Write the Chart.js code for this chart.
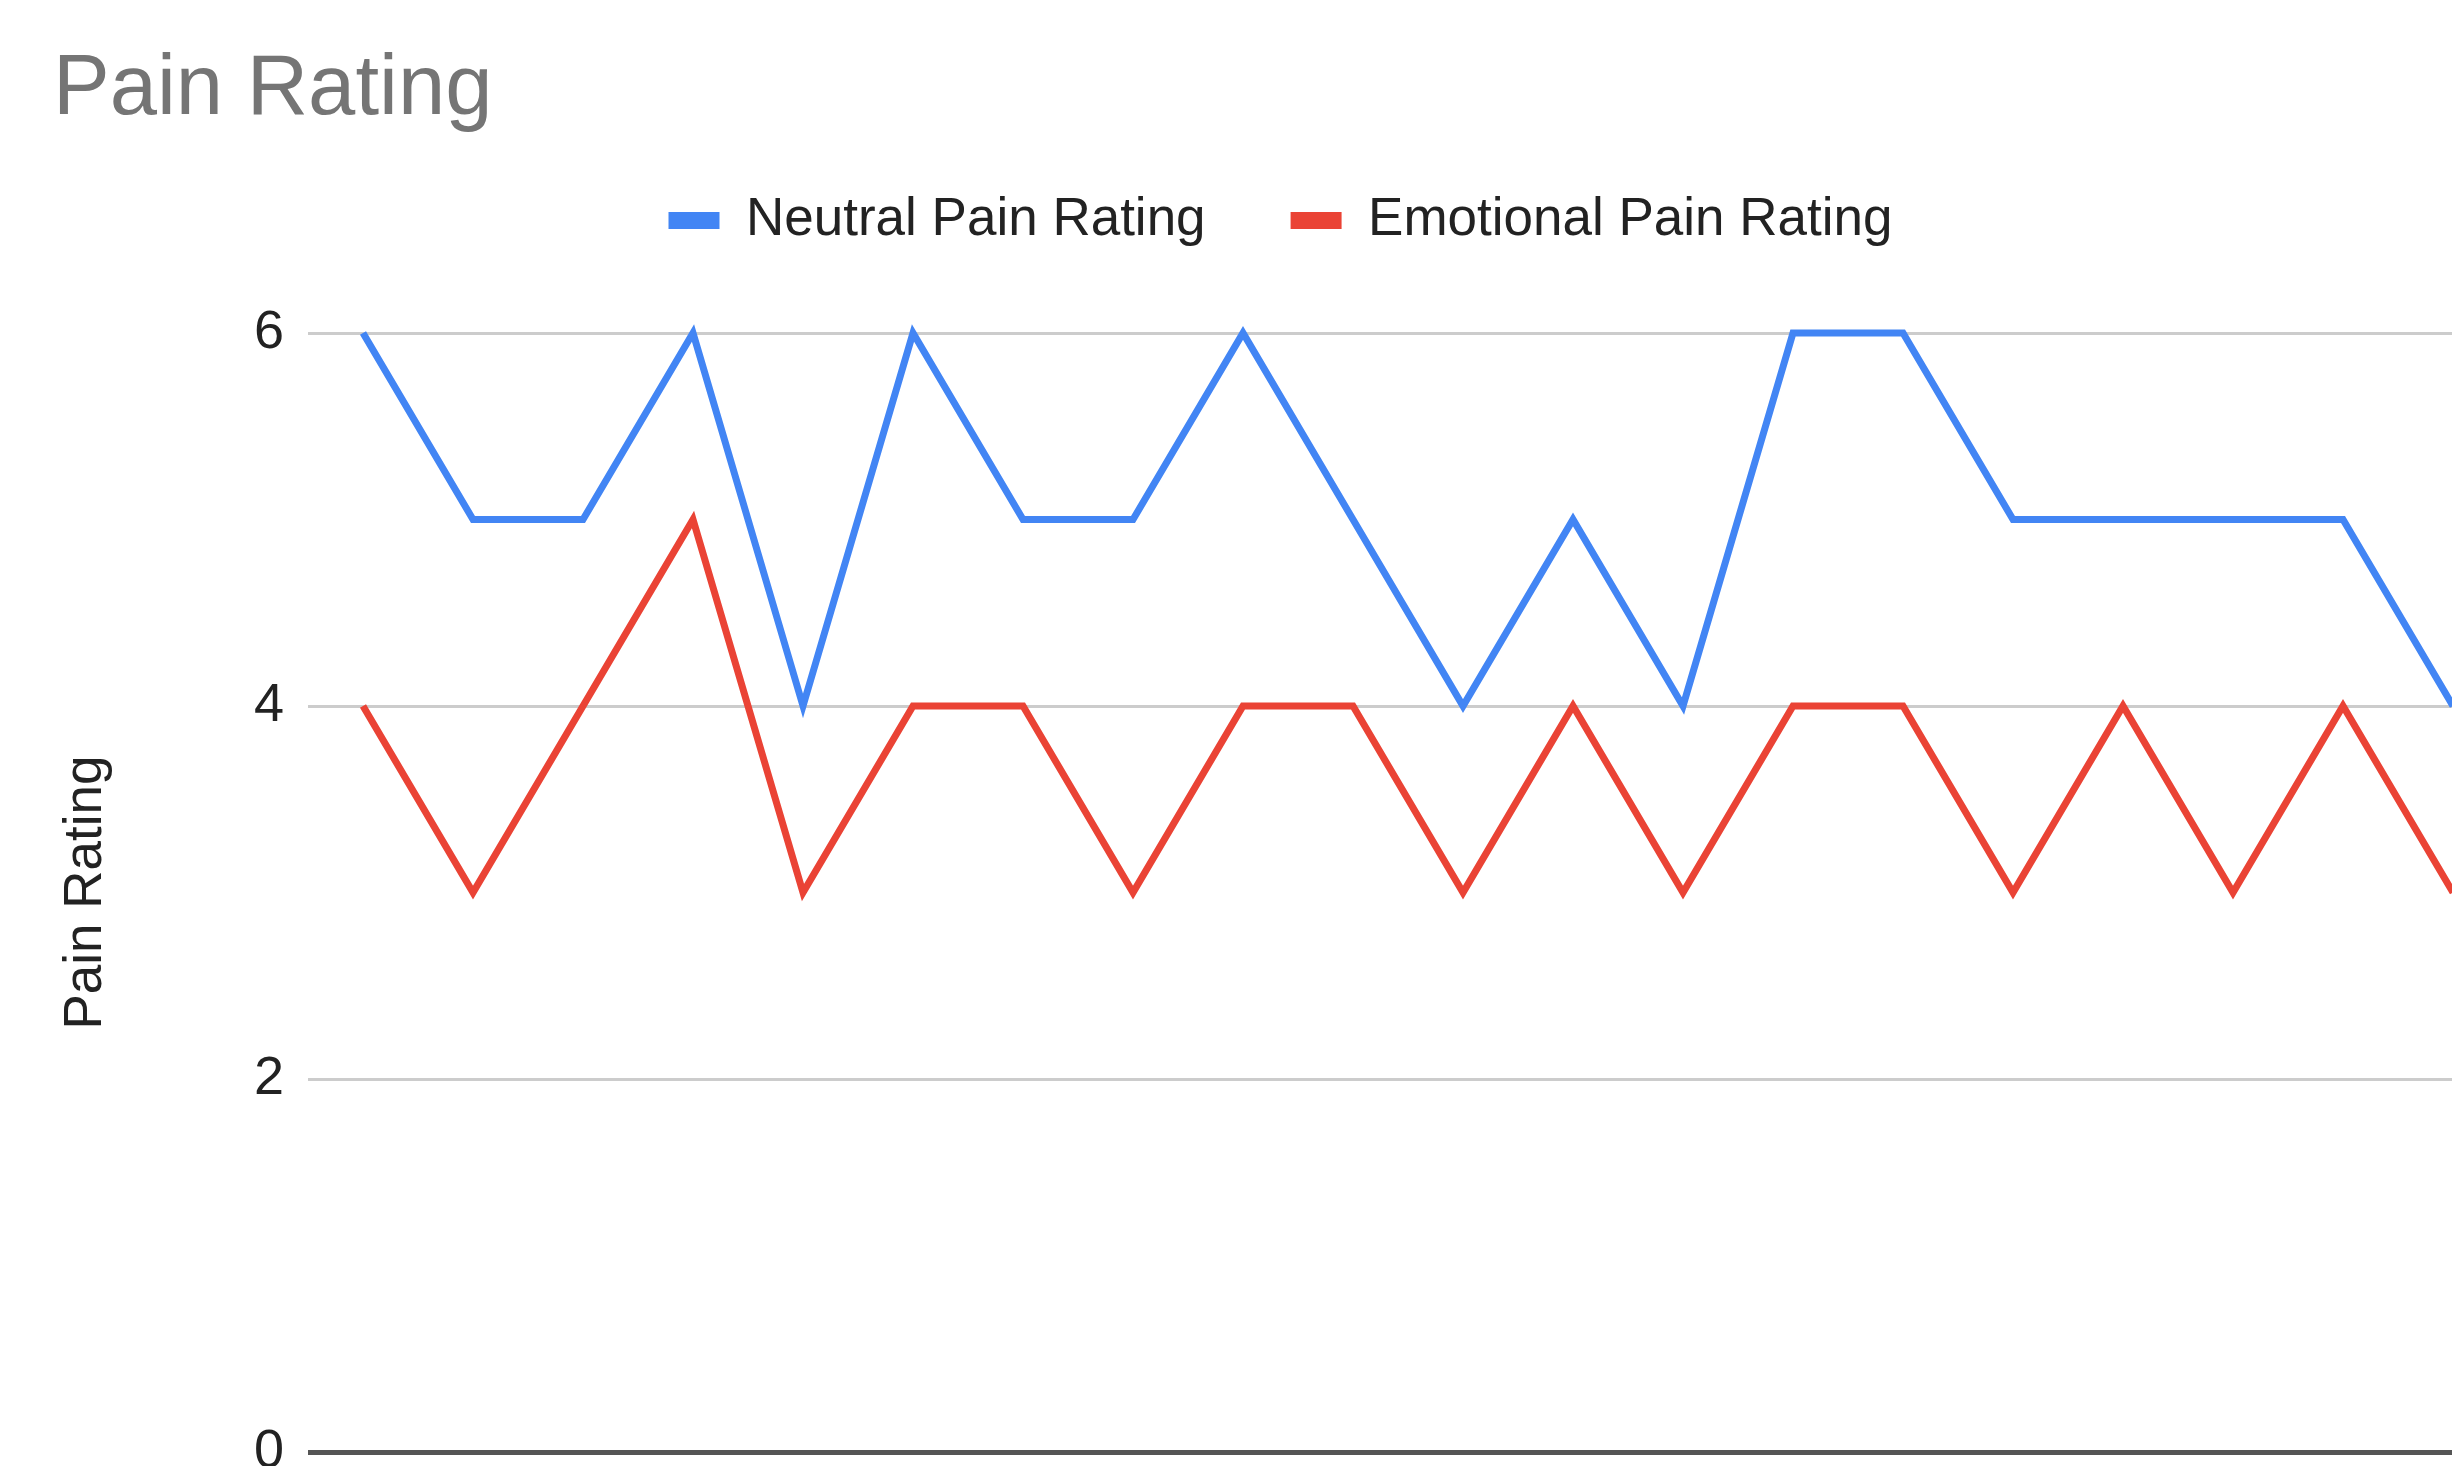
<!DOCTYPE html>
<html>
<head>
<meta charset="utf-8">
<script src="https://cdn.jsdelivr.net/npm/chart.js@4/dist/chart.umd.min.js"></script>
<style>
  html, body { margin: 0; padding: 0; background: #fff; overflow: hidden; }
  #wrap { width: 2452px; height: 1466px; overflow: hidden; position: relative; }
  #graficoPain { display: block; }
</style>
</head>
<body>
<div id="wrap">
  <canvas id="graficoPain" width="2550" height="1560"></canvas>
</div>
<script>
const labels = ['1', '2', '3', '4', '5', '6', '7', '8', '9', '10',
    '11', '12', '13', '14', '15', '16', '17', '18', '19', '20'];
const neutralPain = [6, 5, 5, 6, 4, 6, 5, 5, 6, 5, 4, 5, 4, 6, 6, 5, 5, 5, 5, 4];
const emotionalPain = [4, 3, 4, 5, 3, 4, 4, 3, 4, 4, 3, 4, 3, 4, 4, 3, 4, 3, 4, 3];
const yTicks = [0, 2, 4, 6];

Chart.defaults.font.family = '"Liberation Sans", Arial, sans-serif';

// extra room under the legend, like the sheets chart
const legendSpace = {
    id: 'legendSpace',
    beforeInit(chart) {
        const originalFit = chart.legend.fit;
        chart.legend.fit = function fit() {
            originalFit.bind(chart.legend)();
            this.height += 76;
        };
    }
};

const ctx = document.getElementById('graficoPain').getContext('2d');

const graficoPain = new Chart(ctx, {
    type: 'line',
    data: {
        labels: labels,
        datasets: [{
            label: 'Neutral Pain Rating',
            data: neutralPain,
            borderColor: '#4285F4',
            backgroundColor: '#4285F4',
            borderWidth: 7,
            tension: 0,
            pointRadius: 0,
            clip: false
        },
        {
            label: 'Emotional Pain Rating',
            data: emotionalPain,
            borderColor: '#EA4335',
            backgroundColor: '#EA4335',
            borderWidth: 7,
            tension: 0,
            pointRadius: 0,
            clip: false
        }]
    },
    options: {
        responsive: false,
        animation: false,
        layout: {
            padding: { left: 53, right: 42, top: 0, bottom: 100 }
        },
        plugins: {
            title: {
                display: true,
                text: 'Pain Rating',
                align: 'start',
                color: '#757575',
                font: { size: 85, weight: 'normal', lineHeight: 1.0 },
                padding: { top: 48, bottom: -24 }
            },
            legend: {
                display: true,
                position: 'top',
                labels: {
                    boxWidth: 51,
                    boxHeight: 17,
                    padding: 85,
                    color: '#222222',
                    font: { size: 53 },
                    generateLabels(chart) {
                        const items = Chart.defaults.plugins.legend.labels.generateLabels(chart);
                        items.forEach(it => { it.lineWidth = 0; });
                        return items;
                    }
                }
            },
            tooltip: { enabled: false }
        },
        scales: {
            x: {
                offset: true,
                ticks: { display: false },
                grid: { display: false },
                border: { display: false }
            },
            y: {
                min: 0,
                max: 6,
                afterBuildTicks(scale) {
                    scale.ticks = yTicks.map(v => ({ value: v }));
                },
                afterFit(scale) {
                    scale.width = 308 - 53;
                },
                ticks: {
                    padding: 24,
                    color: '#222222',
                    font: { size: 54 }
                },
                grid: {
                    drawTicks: false,
                    color: (c) => c.tick && c.tick.value === 0 ? '#555555' : '#cccccc',
                    lineWidth: (c) => c.tick && c.tick.value === 0 ? 5 : 3
                },
                border: { display: false },
                title: {
                    display: true,
                    text: 'Pain Rating',
                    color: '#222222',
                    font: { size: 53 },
                    padding: { top: 2, bottom: 0 }
                }
            }
        }
    },
    plugins: [legendSpace]
});
</script>
</body>
</html>
